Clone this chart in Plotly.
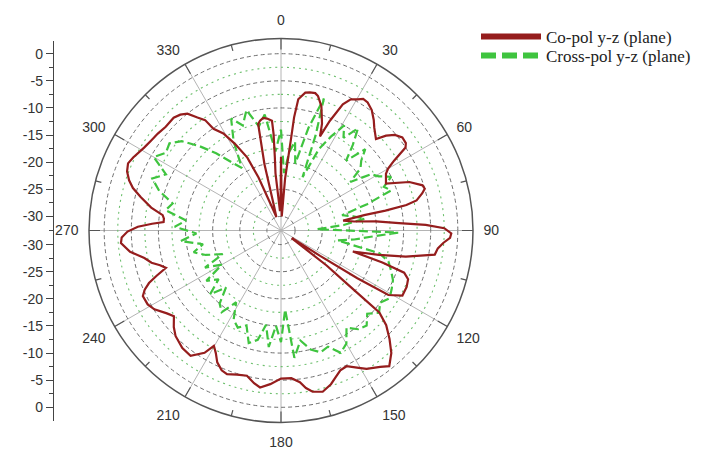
import plotly.graph_objects as go

# ---------------- data ----------------
co_theta = [0, 1.5, 3, 4.5, 6.2, 6.6, 7.5, 10, 11.8, 14, 15.4, 18, 21, 22.5, 24, 26.1, 28, 30.3, 32, 34.1,
            37, 40, 42.2, 46.1, 47.9, 50, 52.5, 55, 56.3, 58.3, 60, 61.6, 65.9, 69.3, 72.3, 73.8, 75.3, 77.5,
            78.5, 79.2, 79.5, 81, 83, 84.5, 86.4, 87.8, 89.2, 91, 92.5, 94.4, 96.5, 98.9, 101.8, 104, 106.3,
            107.5, 108.9, 111, 114.2, 118.2, 121, 122, 123, 124, 126, 127.5, 128.9, 129.8, 132, 135, 138,
            141.4, 144, 148.3, 151, 154.2, 157, 159.1, 162, 165.5, 168.9, 171, 172.9, 176, 180, 184, 187.6,
            190, 193.2, 197, 200.6, 203, 205.8, 208, 210.2, 212, 215.8, 220, 225, 228, 231.3, 234, 238.1,
            241, 244.6, 246.5, 248.3, 250, 252, 254, 256, 258.6, 262, 265.5, 267.5, 269.6, 271.5, 273,
            274.1, 275.8, 277.4, 280, 283.4, 286, 288.3, 291, 293.7, 296.3, 301.2, 305, 308.2, 312, 316.4,
            319, 321.3, 323.5, 325.5, 326.4, 329.3, 332, 335.2, 337, 339, 341, 344, 346, 347.9, 349.2,
            351, 352.9, 355.3, 355.6, 355.2, 354.5, 357, 359, 360]
co_r = [-19, -28, -30, -23, -15.9, -11.6, -8.2, -6.8, -6.6, -6.5, -6.9, -8.5, -11.5, -13.8, -10.5, -6.7,
        -5.2, -4.6, -4.0, -4.1, -4.8, -6.0, -7.0, -8.3, -6.5, -5.2, -4.4, -4.5, -5.0, -8.1, -9.8, -10.6,
        -11.4, -7.3, -5.2, -5.0, -5.7, -7.0, -9.0, -13.0, -17.0, -21.0, -19.0, -15.0, -10.8, -5.9, -2.5,
        -1.2, -1.4, -2.6, -3.5, -3.9, -9.1, -14.0, -18.8, -13.0, -8.6, -7.5, -7.2, -7.2, -9.5, -16.0,
        -24.0, -30.0, -30.0, -22.0, -17.0, -9.0, -6.5, -4.3, -2.2, -0.6, -1.5, -2.6, -3.7, -4.8, -4.6,
        -3.9, -2.8, -1.9, -2.3, -3.2, -4.4, -5.3, -5.3, -4.2, -3.4, -4.0, -5.1, -4.8, -4.3, -4.6, -5.6,
        -7.0, -8.0, -6.0, -4.1, -4.3, -5.1, -6.0, -7.3, -6.6, -5.1, -4.5, -4.4, -5.2, -6.4, -8.2, -10.3,
        -9.4, -8.0, -6.9, -4.5, -3.0, -3.2, -4.3, -6.2, -8.8, -10.9, -10.9, -10.6, -8.3, -6.0, -4.2,
        -3.1, -2.2, -1.8, -2.2, -3.1, -3.5, -3.7, -4.0, -3.9, -4.3, -5.0, -6.7, -7.9, -10.1, -11.8,
        -14.5, -17.8, -22.0, -28.0, -30.0, -28.0, -20.0, -12.5, -12.0, -11.6, -11.8, -12.3, -14.7,
        -19.0, -22.0, -29.0, -28.0, -19.0]

cx_theta = [0, 3, 6, 9, 12, 15, 18, 20, 22, 25, 28, 31, 34, 37, 40, 43, 46, 49, 52, 55, 58, 61, 64, 67,
            70, 73, 76, 79, 82, 85, 88, 91, 94, 97, 100, 103, 106, 110, 114, 118, 122, 126, 130, 134,
            138, 142, 146, 150, 154, 158, 162, 166, 170, 174, 177, 180, 183, 186, 189, 192, 196, 200,
            204, 208, 212, 216, 220, 224, 228, 232, 236, 240, 244, 248, 252, 256, 260, 264, 268, 272,
            276, 280, 284, 288, 292, 296, 300, 304, 308, 312, 316, 320, 324, 328, 332, 336, 340, 344,
            348, 352, 356, 360]
cx_r = [-14, -22, -18, -16, -20, -13, -7, -14, -22, -16, -13, -10, -12, -9, -12, -15, -11, -13, -14, -17,
        -13, -12, -10, -12, -11, -16, -21, -19, -17, -21, -26, -11, -16, -19, -22, -14, -12, -11, -10,
        -9.5, -9, -10, -9, -10.5, -9, -9.5, -11, -8.5, -7.5, -9.5, -9, -10, -12, -9, -18, -12, -15, -11,
        -15, -12, -11, -14, -13, -14, -17, -14, -15, -18, -15, -18, -16, -20, -17, -21, -18, -16, -18,
        -14, -17, -13, -15, -11, -12, -9, -7, -9, -5.5, -7, -6.5, -8, -11, -14, -17, -19, -14, -10,
        -12, -9.5, -13, -11, -18, -14]

angle_ticks = [0, 30, 60, 90, 120, 150, 180, 210, 240, 270, 300, 330]
angle_minor = [15, 45, 75, 105, 135, 165, 195, 225, 255, 285, 315, 345]
radial_major = [-30, -25, -20, -15, -10, -5, 0]
radial_minor = [-27.5, -22.5, -17.5, -12.5, -7.5, -2.5]
left_labels = [0, -5, -10, -15, -20, -25, -30]
left_minor = [-2.5, -7.5, -12.5, -17.5, -22.5, -27.5]

R_MIN, R_MAX = -32.6, 2.8

CO_COLOR = "#951d1d"
CX_COLOR = "#3fc43f"

# ---------------- geometry ----------------
W, H = 726, 449
OFF = 8  # page body margin of the html page
CX_PX, CY_PX, RAD_PX = 281 - OFF, 230.5 - OFF, 192
px_per_db = RAD_PX / (R_MAX - R_MIN)

fig = go.Figure()

# minor (dotted green) grid circles
circ = list(range(0, 361, 2))
for rv in radial_minor:
    fig.add_trace(go.Scatterpolar(theta=circ, r=[rv] * len(circ), mode="lines",
                                  line=dict(color="#6fc06f", width=1.1, dash="2px,4px"),
                                  showlegend=False, hoverinfo="skip"))

# inward tick marks on the outer circle
tk_t, tk_r = [], []
for a in angle_ticks:
    tk_t += [a, a, None]
    tk_r += [R_MAX, R_MAX - 11 / px_per_db, None]
for a in angle_minor:
    tk_t += [a, a, None]
    tk_r += [R_MAX, R_MAX - 6 / px_per_db, None]
fig.add_trace(go.Scatterpolar(theta=tk_t, r=tk_r, mode="lines",
                              line=dict(color="#555555", width=1.2),
                              showlegend=False, hoverinfo="skip"))

# data
fig.add_trace(go.Scatterpolar(theta=cx_theta, r=cx_r, mode="lines",
                              line=dict(color=CX_COLOR, width=2.2, dash="9px,4px"),
                              showlegend=False, hoverinfo="skip"))
fig.add_trace(go.Scatterpolar(theta=co_theta, r=co_r, mode="lines",
                              line=dict(color=CO_COLOR, width=2.2),
                              showlegend=False, hoverinfo="skip"))

# legend entries (two separate legends for tight row spacing)
fig.add_trace(go.Scatterpolar(theta=[None], r=[None], mode="lines", name="Co-pol y-z (plane)",
                              line=dict(color=CO_COLOR, width=6), legend="legend"))
fig.add_trace(go.Scatterpolar(theta=[None], r=[None], mode="lines", name="Cross-pol y-z (plane)",
                              line=dict(color=CX_COLOR, width=6, dash="15px,6px"), legend="legend2"))

# cartesian helper for the left dB scale
fig.add_trace(go.Scatter(x=[None], y=[None], xaxis="x", yaxis="y", showlegend=False, hoverinfo="skip"))

half_axis_px = 190
ycen = (H - CY_PX) / H
ydom = [ycen - half_axis_px / H, ycen + half_axis_px / H]
yr = half_axis_px / px_per_db

tickvals, ticktext = [], []
for lbl in left_labels:
    tickvals.append(lbl - R_MIN)
    ticktext.append(str(lbl))
    tickvals.append(-(lbl - R_MIN))
    ticktext.append(str(lbl))
minorvals = [0]
for m in left_minor:
    minorvals += [m - R_MIN, -(m - R_MIN)]

leg_common = dict(xanchor="left", yanchor="top",
                  font=dict(family="Liberation Serif", size=17, color="#222222"),
                  itemwidth=60, bgcolor="rgba(0,0,0,0)", itemclick=False)

fig.update_layout(
    width=W, height=H,
    margin=dict(l=0, r=0, t=0, b=0, autoexpand=False),
    paper_bgcolor="white",
    plot_bgcolor="white",
    showlegend=True,
    legend=dict(x=(476 - OFF) / W, y=1 - (19 - OFF) / H, **leg_common),
    legend2=dict(x=(476 - OFF) / W, y=1 - (38 - OFF) / H, **leg_common),
    polar=dict(
        domain=dict(x=[(CX_PX - RAD_PX) / W, (CX_PX + RAD_PX) / W],
                    y=[(H - CY_PX - RAD_PX) / H, (H - CY_PX + RAD_PX) / H]),
        bgcolor="white",
        angularaxis=dict(rotation=90, direction="clockwise",
                         tickmode="array", tickvals=angle_ticks,
                         ticktext=[str(a) for a in angle_ticks],
                         ticks="outside", ticklen=7, tickcolor="rgba(0,0,0,0)",
                         showline=True, linecolor="#555555", linewidth=1.5,
                         showgrid=True, gridcolor="#b4b4b4", gridwidth=1,
                         tickfont=dict(family="Liberation Sans", size=14, color="#333333")),
        radialaxis=dict(range=[R_MIN, R_MAX], tickmode="array", tickvals=radial_major,
                        showticklabels=False, ticks="", showline=False,
                        showgrid=True, gridcolor="#6e6e6e", gridwidth=1, griddash="4px,3px"),
    ),
    xaxis=dict(domain=[0, 0.05], visible=False, range=[0, 1], fixedrange=True, automargin=False),
    yaxis=dict(anchor="free", position=(53 - OFF) / W, side="left", domain=ydom, automargin=False,
               range=[-yr, yr], tickmode="array", tickvals=tickvals, ticktext=ticktext,
               ticks="outside", ticklen=7, tickcolor="#444444", tickwidth=1,
               showline=True, linecolor="#444444", linewidth=1.3,
               showgrid=False, zeroline=False, fixedrange=True,
               tickfont=dict(family="Liberation Sans", size=14, color="#333333"),
               minor=dict(tickmode="array", tickvals=minorvals, ticks="outside", ticklen=4,
                          tickcolor="#444444", showgrid=False)),
)

fig.write_html("out.html")
